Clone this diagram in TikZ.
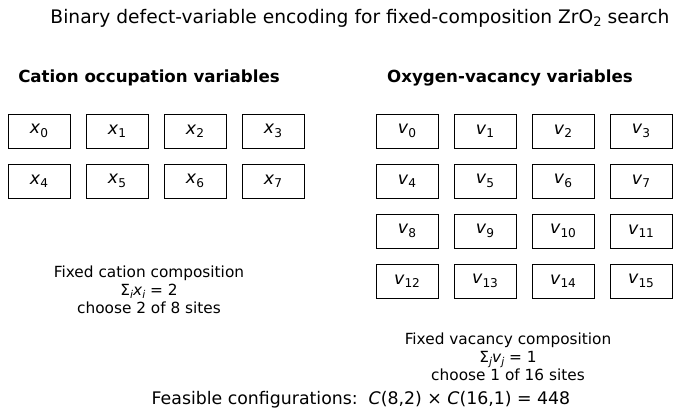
\documentclass[tikz,border=0pt]{standalone}
\usepackage{fontspec}
\setmainfont{DejaVu Sans}
\usetikzlibrary{positioning}
\newcommand{\sub}[1]{\raisebox{-0.35ex}{\fontsize{0.7em}{1em}\selectfont #1}}
\newcommand{\itsub}[1]{\raisebox{-0.35ex}{\fontsize{0.7em}{1em}\selectfont\itshape #1}}
\tikzset{
    varbox/.style={draw, rectangle, minimum width=62*0.75pt, minimum height=34*0.75pt, inner sep=0pt, font=\fontsize{13}{15}\selectfont},
    heading/.style={font=\bfseries\fontsize{12.5}{15}\selectfont},
    note/.style={align=center, font=\fontsize{11.5}{13.5}\selectfont} }
\begin{document}
\begin{tikzpicture}[x=0.75pt, y=-0.75pt]
	\useasboundingbox (0,0) rectangle (680,416);
	\node (title) at (360,18) {\fontsize{14}{16}\selectfont Binary defect-variable encoding for fixed-composition ZrO\sub{2} search};
	\node[heading] (cath) at (149,78) {Cation occupation variables};
	\node[heading] (oxyh) at (510,78) {Oxygen-vacancy variables};
	% cation grid
	\foreach \i in {0,...,7}{
		\pgfmathtruncatemacro{\c}{mod(\i,4)}
		\pgfmathtruncatemacro{\r}{div(\i,4)}
		\node[varbox] (x\i) at (39+78*\c, 131+50*\r) {\textit{x}\sub{\i}};
	}
	% vacancy grid
	\foreach \i in {0,...,15}{
		\pgfmathtruncatemacro{\c}{mod(\i,4)}
		\pgfmathtruncatemacro{\r}{div(\i,4)}
		\node[varbox] (v\i) at (407+78*\c, 131+50*\r) {\textit{v}\sub{\i}};
	}
	\node[note] (catn) at (149,290) {Fixed cation composition\\Σ\itsub{i}\textit{x}\itsub{i} = 2\\choose 2 of 8 sites};
	\node[note] (oxyn) at (508,357) {Fixed vacancy composition\\Σ\itsub{j}\textit{v}\itsub{j} = 1\\choose 1 of 16 sites};
	\node (total) at (361,400) {\fontsize{13}{15}\selectfont Feasible configurations:\ \ \textit{C}(8,2) × \textit{C}(16,1) = 448};
\end{tikzpicture}
\end{document}
